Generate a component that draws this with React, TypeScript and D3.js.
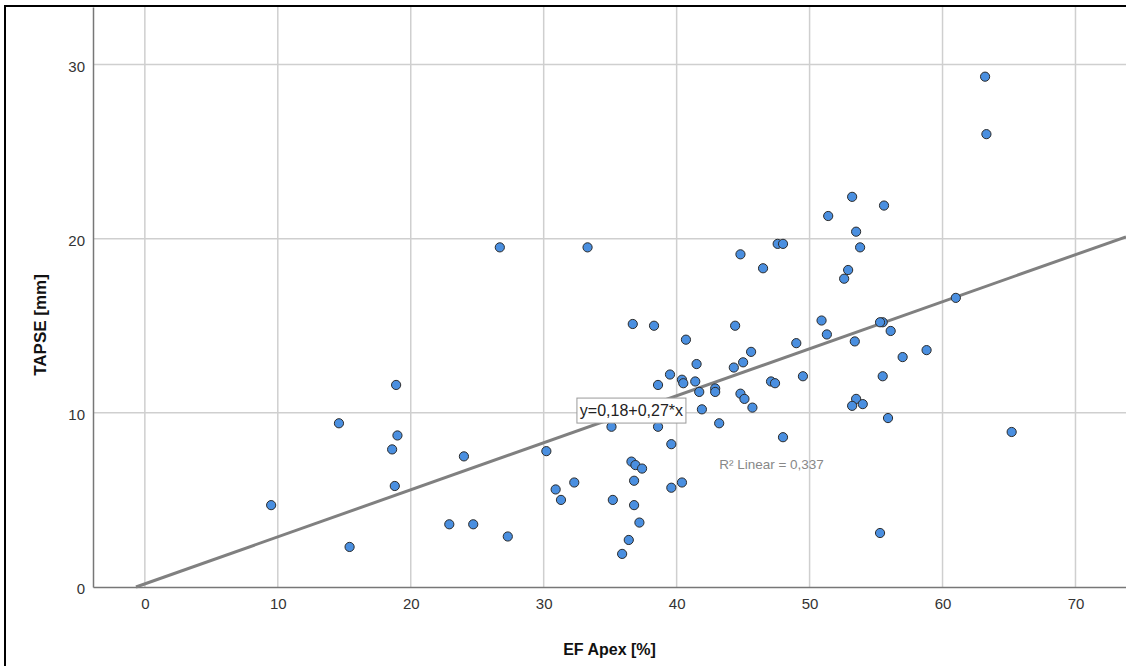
import React, { useRef, useEffect } from 'react';
import * as d3 from 'd3';

// EF Apex [%] values (x)
const efApex = [
  9.5, 14.6, 15.4, 18.6, 18.9, 19.0, 18.8, 24.0, 22.9, 24.7, 27.3, 26.7, 33.3,
  30.2, 32.3, 30.9, 31.3, 36.8, 39.6, 40.4, 35.2, 36.8, 37.2, 36.4, 35.9, 36.6,
  36.9, 37.4, 39.6, 35.1, 38.6, 43.2, 48.0, 36.7, 38.3, 40.7, 44.4, 41.5, 45.6,
  45.0, 44.3, 39.5, 40.4, 40.5, 41.4, 38.6, 41.7, 42.9, 42.9, 44.8, 45.1, 45.7,
  41.9, 47.1, 47.4, 49.5, 49.0, 51.3, 50.9, 53.4, 55.5, 55.3, 56.1, 57.0, 55.5,
  53.5, 53.2, 54.0, 55.9, 53.2, 55.6, 51.4, 53.5, 53.8, 47.6, 48.0, 44.8, 46.5,
  52.9, 52.6, 63.2, 63.3, 61.0, 58.8, 65.2, 55.3,
];

// TAPSE [mm] values (y)
const tapse = [
  4.7, 9.4, 2.3, 7.9, 11.6, 8.7, 5.8, 7.5, 3.6, 3.6, 2.9, 19.5, 19.5,
  7.8, 6.0, 5.6, 5.0, 6.1, 5.7, 6.0, 5.0, 4.7, 3.7, 2.7, 1.9, 7.2,
  7.0, 6.8, 8.2, 9.2, 9.2, 9.4, 8.6, 15.1, 15.0, 14.2, 15.0, 12.8, 13.5,
  12.9, 12.6, 12.2, 11.9, 11.7, 11.8, 11.6, 11.2, 11.4, 11.2, 11.1, 10.8, 10.3,
  10.2, 11.8, 11.7, 12.1, 14.0, 14.5, 15.3, 14.1, 15.2, 15.2, 14.7, 13.2, 12.1,
  10.8, 10.4, 10.5, 9.7, 22.4, 21.9, 21.3, 20.4, 19.5, 19.7, 19.7, 19.1, 18.3,
  18.2, 17.7, 29.3, 26.0, 16.6, 13.6, 8.9, 3.1,
];

const xTicks = [0, 10, 20, 30, 40, 50, 60, 70];
const yTicks = [0, 10, 20, 30];

const intercept = 0.18;
const slope = 0.27;
const fitLabel = 'y=0,18+0,27*x';
const r2Label = 'R² Linear = 0,337';

const W = 1126;
const H = 666;

export default function App() {
  const svgRef = useRef<SVGSVGElement>(null);

  const margin = { top: 7, right: 0, bottom: 79, left: 93 };
  const x = d3.scaleLinear().domain([-3.9, 73.8]).range([margin.left, W - margin.right]);
  const y = d3.scaleLinear().domain([0, 33.3]).range([H - margin.bottom, margin.top]);

  useEffect(() => {
    const svg = d3.select(svgRef.current);
    svg.selectAll('*').remove();
    const font = '"Liberation Sans", Arial, sans-serif';

    // outer frame
    svg.append('rect')
      .attr('x', 5).attr('y', 6)
      .attr('width', W + 20).attr('height', H + 20)
      .attr('fill', 'white').attr('stroke', 'black').attr('stroke-width', 2);

    const g = svg.append('g');

    // grid
    g.selectAll('.vgrid').data(xTicks).enter().append('line')
      .attr('x1', d => x(d)).attr('x2', d => x(d))
      .attr('y1', y.range()[1]).attr('y2', y.range()[0])
      .attr('stroke', '#cfcfcf').attr('stroke-width', 1.5);
    g.selectAll('.hgrid').data(yTicks.filter(d => d > 0)).enter().append('line')
      .attr('x1', x.range()[0]).attr('x2', x.range()[1])
      .attr('y1', d => y(d)).attr('y2', d => y(d))
      .attr('stroke', '#cfcfcf').attr('stroke-width', 1.5);

    // axes
    const xAxis = g.append('g')
      .attr('transform', `translate(0,${y(0)})`)
      .call(d3.axisBottom(x).tickValues(xTicks).tickSize(0).tickPadding(11));
    const yAxis = g.append('g')
      .attr('transform', `translate(${x.range()[0]},0)`)
      .call(d3.axisLeft(y).tickValues(yTicks).tickSize(0).tickPadding(8));
    [xAxis, yAxis].forEach(a => {
      a.select('.domain').attr('stroke', '#777').attr('stroke-width', 1.5);
      a.selectAll('text')
        .attr('font-family', font).attr('font-size', 15).attr('fill', '#333');
    });
    yAxis.selectAll('text').attr('dy', '0.45em');

    // regression line
    const x0 = -intercept / slope;
    const x1 = x.domain()[1];
    g.append('line')
      .attr('x1', x(x0)).attr('y1', y(intercept + slope * x0))
      .attr('x2', x(x1)).attr('y2', y(intercept + slope * x1))
      .attr('stroke', '#808080').attr('stroke-width', 3);

    // points
    g.selectAll('circle').data(efApex).enter().append('circle')
      .attr('cx', d => x(d))
      .attr('cy', (d, i) => y(tapse[i]))
      .attr('r', 4.6)
      .attr('fill', '#4a8fe0')
      .attr('stroke', '#2b2b2b').attr('stroke-width', 1);

    // fit equation box
    const eq = g.append('g').attr('transform', `translate(${x(36.6)},${y(9.9)})`);
    eq.append('rect')
      .attr('x', -54.5).attr('y', -16.5).attr('width', 109).attr('height', 25)
      .attr('fill', 'white').attr('stroke', '#9a9a9a').attr('stroke-width', 1);
    eq.append('text')
      .attr('text-anchor', 'middle').attr('y', 1.5)
      .attr('font-family', font).attr('font-size', 16).attr('fill', '#222')
      .text(fitLabel);

    g.append('text')
      .attr('x', x(43.2)).attr('y', y(6.8))
      .attr('font-family', font).attr('font-size', 13.5).attr('fill', '#888')
      .text(r2Label);

    // axis titles
    g.append('text')
      .attr('x', (x.range()[0] + x.range()[1]) / 2).attr('y', 655)
      .attr('text-anchor', 'middle')
      .attr('font-family', font).attr('font-size', 16).attr('font-weight', 'bold').attr('fill', '#111')
      .text('EF Apex [%]');
    g.append('text')
      .attr('transform', `translate(46,325) rotate(-90)`)
      .attr('text-anchor', 'middle')
      .attr('font-family', font).attr('font-size', 17).attr('font-weight', 'bold').attr('fill', '#111')
      .text('TAPSE [mm]');
  });

  return (
    <div style={{ position: 'absolute', left: 0, top: 0 }}>
      <svg ref={svgRef} width={W} height={H} style={{ display: 'block' }} />
    </div>
  );
}
